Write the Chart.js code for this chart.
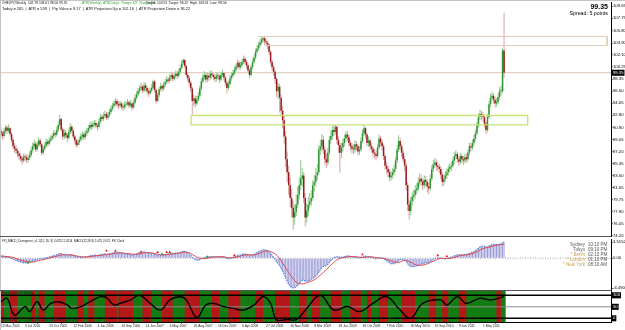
<!DOCTYPE html>
<html><head><meta charset="utf-8">
<script src="https://cdn.jsdelivr.net/npm/chart.js@4.4.1/dist/chart.umd.min.js"></script>
<style>
html,body{margin:0;padding:0;background:#fff;}
body{width:625px;height:330px;position:relative;overflow:hidden;font-family:"Liberation Sans",Arial,sans-serif;}
canvas{position:absolute;left:0;}
.t{position:absolute;white-space:pre;line-height:1;}
.r{position:absolute;}
</style></head><body>
<canvas id="cPrice" width="625" height="240" style="top:0"></canvas>
<canvas id="cMacd" width="625" height="56" style="top:236px"></canvas>
<canvas id="cOsc" width="625" height="41" style="top:289px"></canvas>

<div class="r" style="left:0;top:0;width:625px;height:1px;background:#c4c4c4"></div>
<div class="r" style="left:0;top:0;width:1px;height:330px;background:#c4c4c4"></div>
<div class="r" style="left:0;top:236px;width:611px;height:1px;background:#555"></div>
<div class="r" style="left:0;top:290px;width:611px;height:1px;background:#555"></div>

<div class="t" style="left:2px;top:2px;font-size:3.3px;color:#111">CHFJPY,Weekly  102.78 108.61 98.56 99.35</div>
<div class="t" style="left:82px;top:2px;font-size:3.3px;color:#3a9a3a">ATR(Weekly): ATR(Daily):  Range:127  Range:466</div>
<div class="t" style="left:146px;top:2px;font-size:3.3px;color:#111">Target: 103.55  Target: 96.22  High: 108.61  Low: 98.56</div>
<div class="t" style="left:2px;top:7px;font-size:3.9px;color:#111">Today = 265  |  ATR = 539  |  Pip Value = 9.17  |  ATR Projection Up = 102.16  |  ATR Projection Down = 96.22</div>
<div class="t" style="right:17px;top:3px;font-size:7px;font-weight:bold;color:#000">99.35</div>
<div class="t" style="right:17px;top:11px;font-size:5.3px;color:#000">Spread: 5 points</div>

<div class="t" style="left:2px;top:239.5px;font-size:2.9px;color:#111">FXI_MACD_Divergence_v1.1(12, 26, 9) 2.4752 2.0214  MACD(12,26,9) 2.475 2.021  FXI Clock</div>
<div class="t" style="right:40px;top:243px;font-size:4.5px;color:#555;text-align:right">Sydney</div>
<div class="t" style="left:588px;top:243px;font-size:4.5px;color:#555">10:10 PM</div>
<div class="t" style="right:40px;top:248px;font-size:4.5px;color:#555;text-align:right">Tokyo</div>
<div class="t" style="left:588px;top:248px;font-size:4.5px;color:#555">09:10 PM</div>
<div class="t" style="right:40px;top:253px;font-size:4.5px;color:#c9a14a;text-align:right">* Berlin</div>
<div class="t" style="left:588px;top:253px;font-size:4.5px;color:#555">02:10 PM</div>
<div class="t" style="right:40px;top:258px;font-size:4.5px;color:#c9a14a;text-align:right">* London</div>
<div class="t" style="left:588px;top:258px;font-size:4.5px;color:#555">01:10 PM</div>
<div class="t" style="right:40px;top:263px;font-size:4.5px;color:#c9a14a;text-align:right">* New York</div>
<div class="t" style="left:588px;top:263px;font-size:4.5px;color:#555">08:10 AM</div>

<div class="t" style="left:2px;top:292px;font-size:3px;color:#222">TrendCycle(10) Weekly</div>
<div class="t" style="left:2px;top:318.5px;font-size:3px;color:#222">TimeFrame: 1  © 2009-2011, MetaQuotes Software Corp.</div>

<script>
// ---------------- DATA ----------------
const firstOpen = 90.3;
const closes = [90.0,89.6,90.3,90.9,90.4,90.8,89.9,89.0,88.0,87.6,
87.3,86.9,86.5,86.1,85.8,86.4,86.3,85.9,86.2,86.6,
87.4,88.0,88.4,87.5,88.2,88.9,88.3,87.0,87.6,88.1,
88.7,88.4,88.9,89.2,89.6,90.0,89.8,90.5,91.3,92.2,
90.6,89.5,90.1,89.7,89.3,90.2,91.0,90.4,89.5,88.9,
88.2,88.6,89.0,89.5,89.8,89.4,90.0,90.3,90.8,91.3,
91.0,91.4,91.6,91.2,91.0,91.8,92.5,92.2,92.7,93.0,
92.4,92.8,93.3,93.8,94.2,94.6,95.0,94.5,94.3,94.6,
94.1,94.0,94.4,94.5,94.8,94.3,94.6,94.0,94.7,95.5,
96.0,96.5,96.9,97.2,96.6,97.4,97.0,96.5,96.2,96.6,
97.0,98.0,96.7,95.0,95.9,96.8,97.3,96.9,97.5,97.9,
98.3,98.1,98.6,99.0,98.4,98.8,99.2,98.9,99.5,100.1,
100.8,101.3,100.4,99.0,98.5,97.8,96.9,95.0,95.4,94.6,
95.2,95.8,96.9,98.0,98.6,99.0,98.3,98.9,98.6,99.2,
99.0,98.7,98.4,98.9,98.8,98.3,99.0,99.3,98.6,97.8,
97.0,97.6,98.5,98.9,99.3,99.8,100.3,100.9,100.2,100.5,
101.0,101.5,101.0,100.5,99.7,99.0,100.2,101.0,101.7,102.6,
103.1,103.6,104.0,104.5,104.7,104.2,104.0,103.7,102.6,101.0,
100.2,99.5,98.4,96.5,97.2,95.5,93.5,92.0,89.5,86.0,
84.0,82.0,80.0,78.5,77.0,77.8,79.0,80.5,82.0,83.0,
83.5,80.0,77.0,78.0,79.0,79.5,80.0,82.0,82.5,83.5,
84.0,87.5,88.0,89.0,87.5,86.0,85.5,87.0,89.0,89.6,
90.5,90.2,91.0,89.0,88.2,87.0,87.8,88.5,89.2,89.8,
89.4,88.5,88.0,87.6,87.5,88.3,88.0,87.2,87.5,88.8,
90.0,90.8,89.8,88.5,88.9,88.0,87.6,87.0,86.8,86.5,
87.8,89.2,88.6,88.0,86.5,85.0,84.5,84.0,83.2,83.5,
84.0,84.5,85.8,87.5,88.8,88.0,87.0,86.0,85.0,82.0,
79.0,78.0,79.5,80.2,80.5,81.2,81.5,82.4,83.0,82.6,
82.0,82.8,82.5,81.8,81.5,83.0,84.5,85.2,85.5,85.0,
84.8,84.5,83.6,82.5,83.0,83.5,84.0,84.5,84.8,85.0,
85.8,86.5,86.8,86.0,85.6,86.5,86.0,85.8,86.3,86.0,
87.0,88.0,87.8,88.5,89.2,90.0,91.2,92.5,93.0,92.8,
92.5,91.5,90.5,92.5,94.5,95.5,95.8,95.2,94.6,94.8,
95.6,96.5,96.5,102.8,99.35];

const highs = [90.9,90.4,90.8,91.3,91.2,91.4,91.0,90.2,89.3,88.5,
88.1,87.7,87.3,86.9,86.5,86.9,86.9,86.7,86.8,87.2,
87.9,88.6,89.0,88.7,88.7,89.4,89.2,88.5,88.1,88.6,
89.2,89.1,89.4,89.7,90.1,90.5,90.4,91.0,91.8,92.85,
92.4,90.9,90.6,90.5,90.0,90.7,91.6,91.3,90.7,89.8,
89.2,89.1,89.5,90.0,90.3,90.2,90.5,90.8,91.3,91.8,
91.7,91.9,92.1,92.0,91.6,92.3,93.0,92.9,93.2,93.5,
93.3,93.3,93.8,94.3,94.7,95.1,95.4,95.3,94.9,95.0,
94.9,94.6,94.9,95.0,95.3,95.1,95.1,94.9,95.2,96.0,
96.5,97.0,97.4,97.8,97.5,97.9,97.8,97.3,96.9,97.1,
97.6,98.3,98.2,96.9,96.3,97.2,97.8,97.6,98.0,98.4,
98.8,98.7,99.1,99.5,99.3,99.3,99.7,99.6,100.0,100.6,
101.3,101.6,101.5,100.6,99.4,98.9,98.1,97.2,96.0,95.8,
95.8,96.4,97.4,98.5,99.2,99.6,99.3,99.4,99.3,99.7,
99.6,99.3,99.1,99.4,99.4,99.1,99.5,99.8,99.5,98.9,
98.1,98.1,99.0,99.4,99.8,100.3,100.8,101.4,101.2,101.0,
101.5,102.0,101.8,101.3,100.8,100.0,100.6,101.5,102.2,103.1,
103.6,104.1,104.6,104.9,104.95,104.9,104.6,104.3,103.9,102.8,
101.4,100.6,99.8,98.7,97.9,97.6,96.0,94.2,92.8,90.3,
87.2,85.0,83.2,81.4,79.6,79.0,80.6,81.8,83.3,85.9,
84.6,84.0,80.8,79.2,80.2,80.8,81.2,82.8,83.6,84.6,
85.3,88.2,89.0,89.9,89.6,88.0,86.9,87.8,89.6,90.4,
91.1,91.2,91.3,91.2,89.5,88.6,88.5,89.2,89.9,90.4,
90.3,89.8,88.9,88.5,88.3,88.9,88.8,88.4,88.1,89.4,
90.6,91.3,91.0,90.1,89.5,89.2,88.5,88.0,87.6,87.3,
88.3,89.8,89.6,89.0,88.3,86.9,85.6,85.0,84.5,84.2,
84.6,85.2,86.4,88.2,89.7,89.3,88.4,87.5,86.5,85.4,
82.5,79.8,80.2,81.0,81.3,82.0,82.3,83.2,83.8,83.6,
83.1,83.5,83.4,82.9,82.4,83.7,85.1,85.9,86.2,86.0,
85.6,85.3,84.9,84.0,83.7,84.2,84.6,85.1,85.4,85.6,
86.3,87.1,87.4,87.1,86.4,87.0,86.9,86.5,86.9,86.8,
87.5,88.6,88.5,89.1,89.8,90.6,91.8,93.1,93.6,93.5,
93.3,92.9,91.9,93.0,95.0,96.1,96.4,96.2,95.6,95.4,
96.2,97.1,97.4,103.1,108.6];

const lows = [89.4,89.0,89.2,90.0,89.9,90.1,89.5,88.6,87.6,87.0,
86.8,86.3,85.9,85.6,85.2,85.5,85.7,85.4,85.5,85.9,
86.3,87.0,87.6,87.1,87.2,87.9,87.9,86.6,86.7,87.3,
87.8,88.0,88.1,88.6,88.9,89.2,89.3,89.5,90.2,91.0,
90.2,89.0,89.1,89.2,88.7,89.0,89.9,90.0,89.1,88.4,
87.8,87.9,88.2,88.7,89.1,88.9,89.1,89.6,90.0,90.5,
90.5,90.7,91.0,90.8,90.4,90.7,91.5,91.8,91.9,92.4,
92.0,92.1,92.5,93.0,93.5,93.9,94.2,94.0,93.8,93.9,
93.7,93.5,93.7,94.0,94.2,93.9,94.0,93.5,93.8,94.5,
95.2,95.7,96.2,96.6,96.2,96.3,96.5,96.0,95.6,95.9,
96.3,96.8,96.3,94.6,94.8,95.6,96.5,96.4,96.6,97.2,
97.6,97.7,97.8,98.3,98.0,98.1,98.5,98.4,98.6,99.2,
99.8,100.5,100.0,98.6,98.0,97.3,96.4,92.9,94.2,94.0,
94.3,94.9,95.5,96.6,97.7,98.2,97.8,97.9,98.1,98.3,
98.5,98.2,97.9,98.0,98.3,97.8,98.0,98.7,98.1,97.3,
96.2,96.7,97.3,98.1,98.6,99.0,99.5,100.0,99.8,99.9,
100.2,100.7,100.6,100.0,99.3,98.5,98.8,99.9,100.7,101.4,
102.3,102.8,103.3,103.7,104.0,103.6,103.4,103.0,102.1,100.5,
99.6,98.9,97.6,95.6,95.3,93.2,92.6,90.8,88.4,84.8,
82.5,80.5,78.6,77.0,75.1,75.9,77.2,78.4,79.8,81.2,
81.8,79.2,75.6,76.2,77.2,78.4,78.8,79.6,81.0,81.8,
82.8,83.6,86.6,87.2,86.8,85.2,84.6,85.0,86.6,88.3,
89.0,89.5,89.8,88.4,87.0,83.9,86.2,87.2,88.0,88.7,
88.8,88.0,87.3,86.9,86.8,87.0,87.3,86.6,86.7,87.2,
88.5,89.6,89.2,88.0,87.9,87.4,87.0,86.3,86.1,85.8,
86.2,87.5,88.0,87.3,85.9,84.4,83.8,83.2,82.6,82.7,
83.0,83.5,84.1,85.4,87.1,87.4,86.4,85.5,84.2,81.2,
78.0,76.7,77.4,78.8,79.5,79.9,80.6,81.0,81.9,81.9,
81.2,81.5,81.8,80.9,80.6,81.1,82.6,84.0,84.7,84.3,
84.1,83.8,82.9,81.8,81.9,82.5,83.0,83.5,84.0,84.2,
84.6,85.3,86.0,85.4,85.0,85.2,85.4,85.1,85.4,85.4,
85.7,86.6,87.2,87.4,88.1,88.8,89.7,90.9,92.0,92.1,
91.8,90.9,89.9,90.2,92.2,94.1,95.0,94.6,94.0,94.1,
94.5,95.2,95.8,96.2,98.56];

const macd = [0.4,0.35,0.3,0.3,0.25,0.25,0.15,0.0,-0.2,-0.35,
-0.5,-0.6,-0.75,-0.85,-0.95,-1.0,-1.0,-1.0,-0.95,-0.9,
-0.8,-0.6,-0.45,-0.4,-0.3,-0.15,-0.1,-0.15,-0.1,0.0,
0.1,0.15,0.25,0.35,0.45,0.55,0.6,0.7,0.85,1.05,
1.0,0.85,0.8,0.7,0.6,0.6,0.7,0.7,0.6,0.45,
0.3,0.2,0.15,0.15,0.2,0.2,0.25,0.3,0.4,0.5,
0.55,0.6,0.65,0.65,0.6,0.65,0.75,0.8,0.85,0.9,
0.85,0.85,0.9,1.0,1.1,1.2,1.3,1.3,1.25,1.2,
1.1,1.0,0.95,0.9,0.9,0.85,0.8,0.7,0.7,0.8,
0.9,1.05,1.2,1.3,1.3,1.35,1.3,1.2,1.1,1.0,
1.0,1.05,0.95,0.7,0.6,0.6,0.65,0.65,0.7,0.75,
0.85,0.9,0.95,1.05,1.05,1.05,1.1,1.1,1.15,1.25,
1.4,1.5,1.45,1.3,1.1,0.9,0.6,0.2,-0.05,-0.3,
-0.4,-0.45,-0.35,-0.15,0.0,0.15,0.2,0.3,0.3,0.35,
0.35,0.35,0.3,0.3,0.3,0.25,0.25,0.3,0.25,0.1,
-0.05,-0.1,-0.05,0.05,0.15,0.3,0.45,0.6,0.65,0.7,
0.8,0.9,0.9,0.85,0.7,0.55,0.55,0.65,0.8,1.0,
1.2,1.4,1.55,1.7,1.8,1.8,1.75,1.65,1.4,1.0,
0.6,0.2,-0.2,-0.8,-1.1,-1.6,-2.2,-2.8,-3.5,-4.3,
-5.0,-5.6,-6.1,-6.4,-6.49,-6.4,-6.2,-5.9,-5.5,-5.1,
-4.8,-4.8,-5.0,-5.0,-4.9,-4.8,-4.6,-4.4,-4.2,-3.9,
-3.6,-3.0,-2.5,-2.0,-1.8,-1.7,-1.6,-1.3,-0.9,-0.5,
-0.2,0.05,0.3,0.3,0.3,0.2,0.2,0.25,0.35,0.45,
0.5,0.45,0.4,0.3,0.25,0.25,0.2,0.1,0.05,0.1,
0.25,0.4,0.45,0.4,0.35,0.3,0.2,0.1,-0.05,-0.15,
-0.1,0.05,0.1,0.1,-0.05,-0.3,-0.55,-0.8,-1.05,-1.2,
-1.25,-1.2,-1.05,-0.8,-0.5,-0.35,-0.3,-0.35,-0.45,-0.75,
-1.2,-1.6,-1.8,-1.85,-1.85,-1.8,-1.7,-1.55,-1.4,-1.3,
-1.2,-1.1,-1.0,-0.95,-0.9,-0.75,-0.5,-0.3,-0.1,0.0,
0.05,0.05,0.0,-0.1,-0.15,-0.15,-0.1,0.0,0.1,0.2,
0.35,0.5,0.65,0.7,0.7,0.75,0.75,0.75,0.8,0.8,
0.9,1.05,1.15,1.3,1.45,1.65,1.9,2.15,2.4,2.55,
2.6,2.55,2.4,2.45,2.6,2.8,2.95,3.0,3.0,2.95,
2.95,3.05,3.1,3.35,3.5152];

const signalX = [0,4,8,12,16,20,24,28,32,36,40,44,48,52,56,60,64,68,72,76,80,84,88,92,96,100,104,108,112,116,120,124,128,132,136,140,144,148,152,156,160,164,168,172,176,180,184,188,192,196,200,204,208,212,216,220,224,228,232,236,240,244,248,252,256,260,264,268,272,276,280,284,288,292,296,300,304,308,312,316,320,324,328,332,334];
const signalY = [0.5,0.35,0.15,-0.3,-0.7,-0.85,-0.6,-0.3,0.0,0.35,0.7,0.75,0.65,0.35,0.25,0.4,0.55,0.7,0.85,1.05,1.15,1.0,0.85,0.95,1.2,1.15,0.85,0.7,0.85,1.0,1.2,1.3,0.6,0.0,-0.05,0.2,0.3,0.3,0.05,0.2,0.55,0.75,0.7,1.1,1.55,1.3,0.3,-1.6,-3.6,-5.2,-5.6,-5.2,-4.7,-3.7,-2.5,-1.2,-0.2,0.15,0.35,0.3,0.15,0.3,0.2,0.0,-0.2,-0.75,-0.9,-0.5,-0.9,-1.5,-1.5,-1.1,-0.5,-0.05,-0.05,0.05,0.5,0.7,0.9,1.4,2.1,2.4,2.75,2.95,3.0];

const divRedX = [70,76,93,104,110,112,155,240,290,296];
const divRedY = [1.6,1.6,1.4,1.3,1.3,1.3,0.6,0.8,0.6,0.4];
const divGreenX = [18,107,137];
const divGreenY = [-1.0,0.9,0.3];

const oscX = [0,4,9,16,19,24,28,33,38,44,47,53,59,66,70,75,79,86,92,99,106,112,119,123,130,136,141,148,154,161,168,174,179,183,190,196,203,212,221,230,238,247,256,265,272,280,292,296,303,309,318,325,334];
const oscY = [72,87,14,51,29,72,36,65,72,58,43,51,72,94,90,58,65,80,100,65,36,80,94,80,4,58,65,51,43,36,58,94,65,-7,-5,-6,43,100,36,51,29,65,94,36,0,65,80,58,94,65,87,80,94];

const redBands = [[0,2],[7,11],[21,23],[26,29],[36,43],[52,55],[59,62],[70,77],[79,88],[95,100],[108,114],[123,132],[141,145],[152,159],[170,174],[183,192],[199,203],[207,212],[220,226],[233,239],[244,246],[252,257],[267,275],[285,289],[294,297],[305,309],[330,332]];

const xTickWeeks = [0,16,32,48,64,80,96,112,128,144,160,176,192,208,224,240,256,272,288,304,320];
const xTickLabels = ["13 Mar 2005","3 Jul 2005","23 Oct 2005","12 Feb 2006","4 Jun 2006","24 Sep 2006","14 Jan 2007","6 May 2007","26 Aug 2007","16 Dec 2007","6 Apr 2008","27 Jul 2008","16 Nov 2008","8 Mar 2009","28 Jun 2009","18 Oct 2009","7 Feb 2010","30 May 2010","19 Sep 2010","9 Jan 2011","1 May 2011"];

const priceTicks = [109.65,107.75,105.80,103.90,102.10,100.25,98.35,96.50,94.65,92.80,90.90,89.05,87.20,85.35,83.50,81.65,79.75,77.90,76.05,74.20];
const lastPrice = 99.35;
const macdTicks = [3.5152,0,-6.49];
const macdTickLabels = ["3.5152","0.00","-6.4900"];
const oscTicks = [100,50,0];
const oscTickLabels = ["100","50","0"];

const zoneGreen = {x0:126.2, x1:349.7, lo:91.3, hi:92.75};
const zoneTan = {x0Top:170.7, x0Bot:177.3, x1:402.4, lo:103.55, hi:104.95};

// ---------------- CHARTS ----------------
const opens = closes.map((c,i)=> i===0 ? firstOpen : closes[i-1]);
const X_MIN = -0.66, X_MAX = 405.0;
const BULL='#2f952f', BEAR='#9a1b1b', BULL_W='#8fc98f', BEAR_W='#d9a0a0';
const FAM = '"Liberation Sans", Arial, sans-serif';
const YFONT = {family:FAM, size:4.2};
const XFONT = {family:FAM, size:3.3};

const base = {responsive:false, animation:false, events:[],
  plugins:{legend:{display:false}, tooltip:{enabled:false}}};

function xAxis(show){
  const a = {type:'linear', min:X_MIN, max:X_MAX, offset:false, bounds:'data', display:show,
    grid:{display:show, drawOnChartArea:false, tickLength:1.5, color:'#000'},
    border:{display:show, color:'#000'},
    afterFit: s => { s.paddingLeft = 0; s.paddingRight = 0; if (show) s.height = 8; }};
  if (show) {
    a.afterBuildTicks = s => { s.ticks = xTickWeeks.map(v=>({value:v})); };
    a.ticks = {autoSkip:false, maxRotation:0, minRotation:0, align:'start', padding:0.5,
      font:XFONT, color:'#222', callback:(v,i)=> xTickLabels[i]};
  }
  return a;
}
function yAxis(min, max, tickVals, labelFn, highlight){
  return {type:'linear', position:'right', min, max, bounds:'data', beginAtZero:false,
    afterFit: s => { s.width = 14; s.paddingTop = 0; s.paddingBottom = 0; },
    afterBuildTicks: s => { s.ticks = tickVals.map(v=>({value:v})); },
    grid:{drawOnChartArea:false, tickLength:1.5, color:'#000'},
    border:{display:true, color:'#000'},
    ticks:{autoSkip:false, padding:0.5, font:YFONT,
      callback: labelFn,
      color: ctx => (highlight && highlight(ctx)) ? '#fff' : '#000',
      showLabelBackdrop: ctx => !!(highlight && highlight(ctx)),
      backdropColor:'#000', backdropPadding:{top:0.5,bottom:0.5,left:1,right:1}}};
}
const lineDs = (pts, color, width, extra) => Object.assign({type:'line', data:pts, borderColor:color,
  borderWidth:width, pointRadius:0, fill:false, tension:0}, extra||{});

// Price panel
new Chart(document.getElementById('cPrice'), {
  type:'bar',
  data:{datasets:[
    lineDs([{x:X_MIN,y:lastPrice},{x:X_MAX,y:lastPrice}], '#dcc6ae', 1, {order:6}),
    lineDs([{x:zoneGreen.x0,y:zoneGreen.hi},{x:zoneGreen.x1,y:zoneGreen.hi},{x:zoneGreen.x1,y:zoneGreen.lo},{x:zoneGreen.x0,y:zoneGreen.lo},{x:zoneGreen.x0,y:zoneGreen.hi}], '#c5e27a', 1.3, {order:1}),
    lineDs([{x:zoneTan.x0Top,y:zoneTan.hi},{x:zoneTan.x1,y:zoneTan.hi},{x:zoneTan.x1,y:zoneTan.lo},{x:zoneTan.x0Bot,y:zoneTan.lo}], '#e0ccb6', 1, {order:1}),
    {data: closes.map((c,i)=>({x:i, y:[lows[i], highs[i]]})),
     backgroundColor: ctx => closes[ctx.dataIndex] >= opens[ctx.dataIndex] ? BULL_W : BEAR_W,
     barThickness:1, grouped:false, inflateAmount:0, order:4},
    {data: closes.map((c,i)=>({x:i, y:[opens[i], c]})),
     backgroundColor: ctx => closes[ctx.dataIndex] >= opens[ctx.dataIndex] ? BULL : BEAR,
     barThickness:1.5, minBarLength:1, grouped:false, inflateAmount:0, order:3}
  ]},
  options:Object.assign({}, base, {
    layout:{autoPadding:false, padding:{top:2, bottom:4, left:0, right:0}},
    scales:{x:xAxis(false),
      y:yAxis(74.15, 110.27, priceTicks.concat([lastPrice]), v => v.toFixed(2), ctx => ctx.tick && ctx.tick.value === lastPrice)}
  })
});

// MACD panel
new Chart(document.getElementById('cMacd'), {
  type:'bar',
  data:{datasets:[
    lineDs([{x:X_MIN,y:0},{x:X_MAX,y:0}], '#a0a0a0', 1, {borderDash:[1,1.5], order:6}),
    {data: macd.map((v,i)=>({x:i,y:v})), backgroundColor:'#9a9ad8', barThickness:1, grouped:false, inflateAmount:0, order:5},
    lineDs(macd.map((v,i)=>({x:i,y:v})), '#5a8ee6', 1.3, {borderDash:[1.5,1], order:3}),
    lineDs(signalX.map((x,k)=>({x, y:signalY[k]})), '#e04848', 1, {tension:0.4, order:2}),
    {type:'scatter', data: divRedX.map((x,k)=>({x, y:divRedY[k]})), pointStyle:'triangle', pointRadius:1.6, backgroundColor:'#e01818', borderWidth:0, order:0},
    {type:'scatter', data: divGreenX.map((x,k)=>({x, y:divGreenY[k]})), pointStyle:'triangle', pointRadius:1.6, backgroundColor:'#1a9a1a', borderWidth:0, order:0}
  ]},
  options:Object.assign({}, base, {
    layout:{autoPadding:false, padding:{top:3, bottom:2, left:0, right:0}},
    scales:{x:xAxis(false),
      y:yAxis(-6.925, 4.168, macdTicks, (v,i)=> macdTickLabels[i], null)}
  })
});

// Oscillator panel
const OSC_MIN = -16.1, OSC_MAX = 118.7;
const isRed = i => redBands.some(b => i >= b[0] && i <= b[1]);
new Chart(document.getElementById('cOsc'), {
  type:'bar',
  data:{datasets:[
    {data: closes.map((c,i)=>({x:i, y:[OSC_MIN, OSC_MAX]})),
     backgroundColor: ctx => isRed(ctx.dataIndex) ? '#b51818' : '#137d13',
     barThickness:3.2, grouped:false, inflateAmount:0, order:9},
    lineDs([{x:X_MIN,y:100},{x:X_MAX,y:100}], '#000', 1.4, {order:3}),
    lineDs([{x:X_MIN,y:50},{x:X_MAX,y:50}], '#8a8a8a', 1, {order:3}),
    lineDs([{x:X_MIN,y:0},{x:X_MAX,y:0}], '#000', 1.4, {order:3}),
    lineDs(oscX.map((x,k)=>({x, y:oscY[k]})), '#000', 1.4, {tension:0.4, order:1})
  ]},
  options:Object.assign({}, base, {
    layout:{autoPadding:false, padding:{top:2, bottom:0, left:0, right:0}},
    scales:{x:xAxis(true),
      y:yAxis(OSC_MIN, OSC_MAX, oscTicks, (v,i)=> oscTickLabels[i], ctx => !!ctx.tick)}
  })
});
</script>
</body></html>
